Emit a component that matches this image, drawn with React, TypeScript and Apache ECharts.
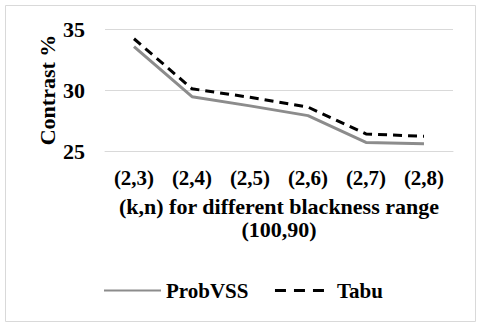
import React, { useEffect, useRef } from "react";
import * as echarts from "echarts";

const categories = ["(2,3)", "(2,4)", "(2,5)", "(2,6)", "(2,7)", "(2,8)"];
const probVSS = [33.55, 29.45, 28.7, 27.9, 25.7, 25.6];
const tabu = [34.2, 30.1, 29.4, 28.6, 26.4, 26.2];
const yTicks = { min: 25, max: 35, interval: 5 };

const FONT = "'Liberation Serif', 'Times New Roman', serif";

export default function App() {
  const ref = useRef<HTMLDivElement>(null);
  useEffect(() => {
    document.body.style.margin = "0";
    const chart = echarts.init(ref.current!, undefined, { renderer: "svg" });
    chart.setOption({
      animation: false,
      backgroundColor: "#ffffff",
      graphic: [
        {
          type: "rect",
          shape: { x: 5.5, y: 5.5, width: 470, height: 316 },
          style: { fill: "none", stroke: "#d9d9d9", lineWidth: 1 },
          silent: true,
          z: -1,
        },
      ],
      grid: { left: 105, right: 27, top: 29, bottom: 175, containLabel: false },
      legend: {
        left: 98,
        top: 275,
        itemWidth: 57,
        itemHeight: 14,
        itemGap: 25,
        itemStyle: { opacity: 0 },
        textStyle: { fontFamily: FONT, fontWeight: "bold", fontSize: 21, color: "#000" },
        data: [
          { name: "ProbVSS", itemStyle: { opacity: 0 } },
          { name: "Tabu", itemStyle: { opacity: 0 }, lineStyle: { type: [11, 8], width: 3, color: "#000" } },
        ],
      },
      xAxis: {
        type: "category",
        data: categories,
        boundaryGap: true,
        axisLine: { show: true, lineStyle: { color: "#d9d9d9", width: 1 } },
        axisTick: { show: false },
        axisLabel: { fontFamily: FONT, fontWeight: "bold", fontSize: 21, color: "#000", margin: 16 },
        name: "(k,n) for different blackness range\n(100,90)",
        nameLocation: "middle",
        nameGap: 44,
        nameTextStyle: { fontFamily: FONT, fontWeight: "bold", fontSize: 22, color: "#000", lineHeight: 23, verticalAlign: "top" },
      },
      yAxis: {
        type: "value",
        min: yTicks.min,
        max: yTicks.max,
        interval: yTicks.interval,
        axisLine: { show: false },
        axisTick: { show: false },
        splitLine: { lineStyle: { color: "#d9d9d9", width: 1 } },
        axisLabel: { fontFamily: FONT, fontWeight: "bold", fontSize: 22, color: "#000", margin: 20 },
        name: "Contrast %",
        nameLocation: "middle",
        nameGap: 47,
        nameMoveOverlap: false,
        nameRotate: 90,
        nameTextStyle: { fontFamily: FONT, fontWeight: "bold", fontSize: 22, color: "#000" },
      },
      series: [
        {
          name: "ProbVSS",
          type: "line",
          data: probVSS,
          symbol: "none",
          lineStyle: { color: "#8c8c8c", width: 3 },
          itemStyle: { color: "#8c8c8c" },
        },
        {
          name: "Tabu",
          type: "line",
          data: tabu,
          symbol: "none",
          lineStyle: { color: "#000000", width: 3, type: [9, 6] },
          itemStyle: { color: "#000000" },
        },
      ],
    });
    return () => chart.dispose();
  }, []);
  return <div ref={ref} style={{ width: 480, height: 326 }} />;
}
